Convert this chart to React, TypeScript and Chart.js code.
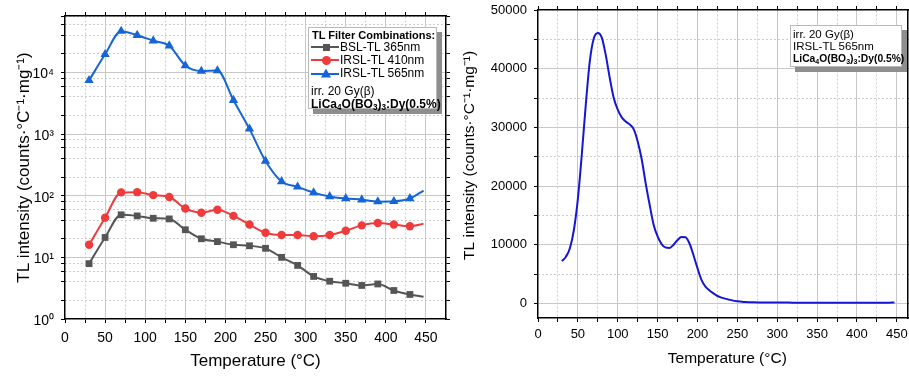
import React, { useEffect, useRef } from 'react';
import { Chart, registerables } from 'chart.js';

Chart.register(...registerables);

const FONT = '"Liberation Sans", Arial, Helvetica, sans-serif';

// ---------- Left panel (log scale) ----------
const seriesNames = ['BSL-TL 365nm', 'IRSL-TL 410nm', 'IRSL-TL 565nm'];
const leftTemps = [30, 50, 70, 90, 110, 130, 150, 170, 190, 210, 230, 250, 270, 290, 310, 330, 350, 370, 390, 410, 430, 447];
const bslValues = [7.9, 21, 49, 47, 43, 42, 28, 20, 18, 16, 15.4, 14, 10, 7.4, 4.9, 4.1, 3.8, 3.5, 3.7, 2.9, 2.5, 2.3];
const irsl410Values = [16, 44, 113, 114, 102, 95, 62, 53, 59, 47, 34, 25, 23, 23, 22, 23, 27, 33, 36, 34, 32, 35];
const irsl565Values = [7400, 19600, 46600, 40000, 32600, 27000, 12900, 10500, 10700, 3530, 1210, 366, 170, 139, 112, 97, 90, 86, 80, 81, 90, 121];

const leftXMajor = [0, 50, 100, 150, 200, 250, 300, 350, 400, 450];
const leftXMinor = [25, 75, 125, 175, 225, 275, 325, 375, 425];
const leftXLabels = ['0', '50', '100', '150', '200', '250', '300', '350', '400', '450'];
const leftYMajor = [1, 10, 100, 1000, 10000];
const leftYMinor = [2, 4, 6, 8, 20, 40, 60, 80, 200, 400, 600, 800, 2000, 4000, 6000, 8000, 20000, 40000, 60000, 80000];
const leftYLabels = ['10⁰', '10¹', '10²', '10³', '10⁴'];

// ---------- Right panel (linear scale) ----------
const rightTemps = [30, 35, 40, 45, 50, 55, 60, 65, 70, 75, 80, 85, 90, 95, 100, 105, 110, 115, 120, 125, 130, 135, 140, 145, 150, 155, 160, 165, 170, 175, 180, 185, 190, 195, 200, 205, 210, 215, 220, 225, 230, 240, 250, 260, 270, 280, 300, 320, 350, 380, 400, 420, 440, 447];
const rightValues = [7200, 7950, 9400, 12500, 17800, 25500, 34000, 41300, 45200, 46100, 45300, 42300, 38400, 35000, 33000, 31700, 31000, 30500, 29700, 27600, 24600, 20500, 16800, 13400, 11400, 10100, 9500, 9450, 10000, 10800, 11300, 11250, 10200, 8200, 6000, 4000, 2850, 2200, 1700, 1250, 970, 620, 340, 230, 170, 150, 130, 120, 110, 100, 95, 95, 110, 150];
const rightSeriesName = 'IRSL-TL 565nm';
const rightXMajor = [0, 50, 100, 150, 200, 250, 300, 350, 400, 450];
const rightXMinor = [25, 75, 125, 175, 225, 275, 325, 375, 425];
const rightXLabels = ['0', '50', '100', '150', '200', '250', '300', '350', '400', '450'];
const rightYMajor = [0, 10000, 20000, 30000, 40000, 50000];
const rightYMinor = [5000, 15000, 25000, 35000, 45000];
const rightYLabels = ['0', '10000', '20000', '30000', '40000', '50000'];

const GRID_MAJOR = '#c8c8c8';
const GRID_MINOR = '#cdcdcd';

type AxisSpec = {
  xMin: number; xMax: number; yMin: number; yMax: number; yType: string;
  xMajor: number[]; xMinor: number[]; xLabels: string[];
  yMajor: number[]; yMinor: number[]; yLabels: string[];
  left: number; right: number; top: number; bottom: number;
  tickFont: number; titleFont: number;
  xPad: number; yPad: number; yLabelOffset: number;
  xTitlePad: number; yTitlePad: number; xTitle: string; yTitle: string; borderW: number;
};

function buildScales(s: AxisSpec) {
  const xAll = [...s.xMajor, ...s.xMinor].sort((a, b) => a - b);
  const yAll = [...s.yMajor, ...s.yMinor].sort((a, b) => a - b);
  const xEdge = (v: number) => v <= s.xMin || v >= s.xMax;
  const yEdge = (v: number) => v <= s.yMin || v >= s.yMax;
  const xTicks = (sc: any) => { sc.ticks = xAll.map((v) => ({ value: v })); };
  const yTicks = (sc: any) => { sc.ticks = yAll.map((v) => ({ value: v })); };
  return {
    x: {
      type: 'linear', position: 'bottom', min: s.xMin, max: s.xMax,
      afterBuildTicks: xTicks,
      afterFit: (sc: any) => { sc.height = s.bottom; sc.paddingLeft = 0; sc.paddingRight = 0; },
      ticks: {
        autoSkip: false, maxRotation: 0, padding: s.xPad, color: '#000',
        font: { family: FONT, size: s.tickFont },
        callback: (v: number) => { const i = s.xMajor.indexOf(v); return i >= 0 ? s.xLabels[i] : ''; },
      },
      grid: {
        color: (c: any) => (s.xMajor.includes(c.tick.value) && !xEdge(c.tick.value) ? GRID_MAJOR : 'rgba(0,0,0,0)'),
        tickColor: '#000', tickLength: 4, lineWidth: 1,
      },
      border: { color: '#000', width: s.borderW },
      title: { display: true, text: s.xTitle, color: '#000', font: { family: FONT, size: s.titleFont }, padding: { top: 0, bottom: s.xTitlePad } },
    },
    xTop: {
      type: 'linear', position: 'top', min: s.xMin, max: s.xMax,
      afterBuildTicks: xTicks,
      afterFit: (sc: any) => { sc.height = s.top; sc.paddingLeft = 0; sc.paddingRight = 0; },
      ticks: { display: false, autoSkip: false },
      grid: {
        color: (c: any) => (s.xMinor.includes(c.tick.value) ? GRID_MINOR : 'rgba(0,0,0,0)'),
        tickColor: '#000', tickLength: 4, lineWidth: 1,
      },
      border: { color: '#000', width: s.borderW, dash: [2, 2] },
    },
    y: {
      type: s.yType, position: 'left', min: s.yMin, max: s.yMax,
      afterBuildTicks: yTicks,
      afterFit: (sc: any) => { sc.width = s.left; sc.paddingTop = 0; sc.paddingBottom = 0; },
      ticks: {
        autoSkip: false, padding: s.yPad, color: '#000', labelOffset: s.yLabelOffset,
        font: { family: FONT, size: s.tickFont },
        callback: (v: number) => { const i = s.yMajor.indexOf(v); return i >= 0 ? s.yLabels[i] : ''; },
      },
      grid: {
        color: (c: any) => (s.yMajor.includes(c.tick.value) && !yEdge(c.tick.value) ? GRID_MAJOR : 'rgba(0,0,0,0)'),
        tickColor: '#000', tickLength: 4, lineWidth: 1,
      },
      border: { color: '#000', width: s.borderW },
      title: { display: true, text: s.yTitle, color: '#000', font: { family: FONT, size: s.titleFont }, padding: { top: s.yTitlePad, bottom: 0 } },
    },
    yRight: {
      type: s.yType, position: 'right', min: s.yMin, max: s.yMax,
      afterBuildTicks: yTicks,
      afterFit: (sc: any) => { sc.width = s.right; sc.paddingTop = 0; sc.paddingBottom = 0; },
      ticks: { display: false, autoSkip: false },
      grid: {
        color: (c: any) => (s.yMinor.includes(c.tick.value) ? GRID_MINOR : 'rgba(0,0,0,0)'),
        tickColor: '#000', tickLength: 4, lineWidth: 1,
      },
      border: { color: '#000', width: s.borderW, dash: [2, 2] },
    },
  };
}

function pts(xs: number[], ys: number[]) {
  return xs.map((x, i) => ({ x, y: ys[i] }));
}

const lastHidden = (r: number) => (c: any) => (c.dataIndex === leftTemps.length - 1 ? 0 : r);

function leftConfig(): any {
  const colors = ['#555555', '#ef3b3b', '#1565d6'];
  const styles = ['rect', 'circle', 'triangle'];
  const radii = [4.8, 4.2, 5.4];
  const vals = [bslValues, irsl410Values, irsl565Values];
  return {
    type: 'line',
    data: {
      datasets: vals.map((v, k) => ({
        label: seriesNames[k],
        data: pts(leftTemps, v),
        borderColor: colors[k],
        backgroundColor: colors[k],
        pointBackgroundColor: colors[k],
        pointBorderColor: colors[k],
        pointBorderWidth: 0,
        pointStyle: styles[k],
        pointRadius: lastHidden(radii[k]),
        borderWidth: 2,
        cubicInterpolationMode: 'monotone',
        xAxisID: 'x',
        yAxisID: 'y',
      })),
    },
    options: {
      responsive: false, animation: false, devicePixelRatio: 1,
      layout: { padding: 0 },
      plugins: { legend: { display: false }, tooltip: { enabled: false } },
      scales: buildScales({
        xMin: 0, xMax: 475, yMin: 1, yMax: 82000, yType: 'logarithmic',
        xMajor: leftXMajor, xMinor: leftXMinor, xLabels: leftXLabels,
        yMajor: leftYMajor, yMinor: leftYMinor, yLabels: leftYLabels,
        left: 65, right: 9, top: 16, bottom: 57,
        tickFont: 14, titleFont: 17, xPad: 7, yPad: 7, yLabelOffset: 2,
        xTitlePad: 4, yTitlePad: 14,
        xTitle: 'Temperature (°C)', yTitle: 'TL intensity (counts·°C⁻¹·mg⁻¹)', borderW: 1.5,
      }),
    },
  };
}

function rightConfig(): any {
  return {
    type: 'line',
    data: {
      datasets: [{
        label: rightSeriesName,
        data: pts(rightTemps, rightValues),
        borderColor: '#1616d4',
        borderWidth: 2,
        pointRadius: 0,
        cubicInterpolationMode: 'monotone',
        xAxisID: 'x',
        yAxisID: 'y',
      }],
    },
    options: {
      responsive: false, animation: false, devicePixelRatio: 1,
      layout: { padding: 0 },
      plugins: { legend: { display: false }, tooltip: { enabled: false } },
      scales: buildScales({
        xMin: 0, xMax: 464, yMin: -2500, yMax: 50000, yType: 'linear',
        xMajor: rightXMajor, xMinor: rightXMinor, xLabels: rightXLabels,
        yMajor: rightYMajor, yMinor: rightYMinor, yLabels: rightYLabels,
        left: 78, right: 1, top: 10, bottom: 58,
        tickFont: 13, titleFont: 15.5, xPad: 5, yPad: 7, yLabelOffset: 0,
        xTitlePad: 8, yTitlePad: 0,
        xTitle: '  Temperature (°C)', yTitle: '    TL intensity (counts·°C⁻¹·mg⁻¹)', borderW: 1.5,
      }),
    },
  };
}

function ChartBox({ make, left, width, height }: { make: () => any; left: number; width: number; height: number }) {
  const ref = useRef<HTMLCanvasElement>(null);
  useEffect(() => {
    const chart = new Chart(ref.current as HTMLCanvasElement, make());
    return () => chart.destroy();
  }, []);
  return (
    <canvas
      ref={ref}
      width={width}
      height={height}
      style={{ position: 'absolute', left, top: 0, width, height }}
    />
  );
}

const sub = { fontSize: '0.68em', verticalAlign: '-0.3em', lineHeight: 0 } as const;

function Formula() {
  return (
    <span style={{ fontWeight: 'bold' }}>
      LiCa<span style={sub}>4</span>O(BO<span style={sub}>3</span>)<span style={sub}>3</span>:Dy(0.5%)
    </span>
  );
}

function Marker({ kind, color }: { kind: string; color: string }) {
  if (kind === 'square') {
    return <div style={{ position: 'absolute', left: 13.5, top: 3, width: 7, height: 7, background: color }} />;
  }
  if (kind === 'circle') {
    return <div style={{ position: 'absolute', left: 12.5, top: 2, width: 9, height: 9, borderRadius: '50%', background: color }} />;
  }
  return (
    <div style={{ position: 'absolute', left: 12, top: 1.5, width: 10, height: 9, background: color, clipPath: 'polygon(50% 0, 100% 100%, 0 100%)' }} />
  );
}

function LeftLegend() {
  const colors = ['#555555', '#ef3b3b', '#1565d6'];
  const kinds = ['square', 'circle', 'triangle'];
  const rowTops = [12.5, 25.5, 39];
  return (
    <div style={{ position: 'absolute', left: 308, top: 27, width: 129, height: 82, boxSizing: 'border-box', border: '1px solid #b9b9b9', background: '#fff', boxShadow: '5px 5px 0 #8e8e8e', fontFamily: FONT, color: '#000' }}>
      <div style={{ position: 'absolute', left: 3, top: 0.5, fontSize: 11, lineHeight: '13px', fontWeight: 'bold', whiteSpace: 'nowrap' }}>TL Filter Combinations:</div>
      {seriesNames.map((n, k) => (
        <div key={n} style={{ position: 'absolute', left: 0, top: rowTops[k], width: 127, height: 13 }}>
          <div style={{ position: 'absolute', left: 2, top: 5.5, width: 28, height: 2, background: colors[k] }} />
          <Marker kind={kinds[k]} color={colors[k]} />
          <div style={{ position: 'absolute', left: 31, top: 0, fontSize: 12, lineHeight: '13px', whiteSpace: 'nowrap' }}>{n}</div>
        </div>
      ))}
      <div style={{ position: 'absolute', left: 2, top: 56.5, fontSize: 12, lineHeight: '13px', whiteSpace: 'nowrap' }}>irr. 20 Gy(β)</div>
      <div style={{ position: 'absolute', left: 2, top: 69.5, fontSize: 12, lineHeight: '13px', whiteSpace: 'nowrap' }}><Formula /></div>
    </div>
  );
}

function RightLegend() {
  return (
    <div style={{ position: 'absolute', left: 790, top: 25, width: 112, height: 42, boxSizing: 'border-box', border: '1px solid #b9b9b9', background: '#fff', boxShadow: '5px 5px 0 #8e8e8e', fontFamily: FONT, color: '#000' }}>
      <div style={{ position: 'absolute', left: 2, top: 1.5, fontSize: 11.5, lineHeight: '13px', whiteSpace: 'nowrap' }}>irr. 20 Gy(β)</div>
      <div style={{ position: 'absolute', left: 2, top: 13.5, fontSize: 11.5, lineHeight: '13px', whiteSpace: 'nowrap' }}>{rightSeriesName}</div>
      <div style={{ position: 'absolute', left: 2, top: 26, fontSize: 10.3, lineHeight: '13px', whiteSpace: 'nowrap' }}><Formula /></div>
    </div>
  );
}

export default function App() {
  return (
    <div style={{ position: 'absolute', left: 0, top: 0, width: 909, height: 376, background: '#fff', overflow: 'hidden' }}>
      <ChartBox make={leftConfig} left={0} width={455} height={376} />
      <ChartBox make={rightConfig} left={460} width={449} height={376} />
      <LeftLegend />
      <RightLegend />
    </div>
  );
}
